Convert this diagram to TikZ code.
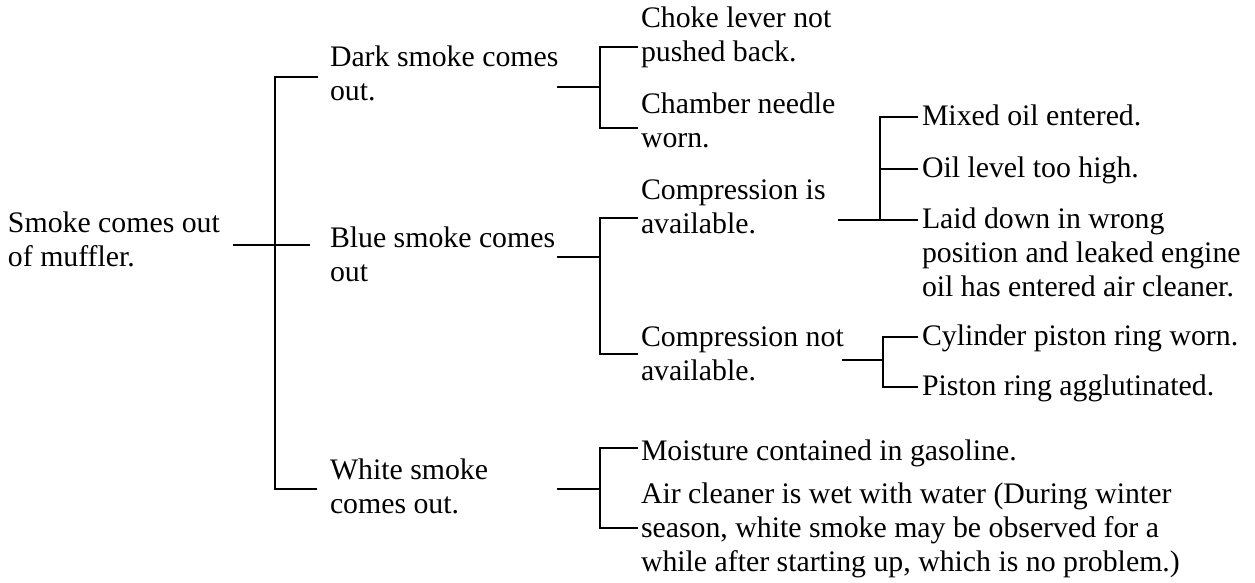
\documentclass[tikz,border=0pt]{standalone}
\usepackage{fontspec}
\setmainfont{Liberation Serif}
\begin{document}
\begin{tikzpicture}[x=0.5pt,y=-0.5pt,
  txt/.style={anchor=north west, inner sep=0pt, outer sep=0pt, align=left,
    font=\fontsize{14.9pt}{17pt}\selectfont},
  conn/.style={draw=black, line width=0.8pt}]
\useasboundingbox (0,0) rectangle (1255,583);

% text nodes (anchored at top = baseline - 24px)
\node[txt] (root)    at (8,209)   {\strut Smoke comes out\\of muffler.};
\node[txt] (dark)    at (330,43)  {\strut Dark smoke comes\\out.};
\node[txt] (blue)    at (330,224) {\strut Blue smoke comes\\out};
\node[txt] (white)   at (330,456) {\strut White smoke\\comes out.};
\node[txt] (choke)   at (641,4)   {\strut Choke lever not\\pushed back.};
\node[txt] (chamber) at (641,90)  {\strut Chamber needle\\worn.};
\node[txt] (compis)  at (641,176) {\strut Compression is\\available.};
\node[txt] (compnot) at (641,323) {\strut Compression not\\available.};
\node[txt] (moist)   at (641,437) {\strut Moisture contained in gasoline.};
\node[txt] (air)     at (641,480) {\strut Air cleaner is wet with water (During winter\\season, white smoke may be observed for a\\while after starting up, which is no problem.)};
\node[txt] (mixed)   at (922,102) {\strut Mixed oil entered.};
\node[txt] (oil)     at (922,154) {\strut Oil level too high.};
\node[txt] (laid)    at (922,205) {\strut Laid down in wrong\\position and leaked engine\\oil has entered air cleaner.};
\node[txt] (cyl)     at (922,322) {\strut Cylinder piston ring worn.};
\node[txt] (piston)  at (922,372) {\strut Piston ring agglutinated.};

% junction coordinates
\coordinate (rs) at (233,245); \coordinate (re) at (310,245);
\coordinate (tt) at (275,77);  \coordinate (tb) at (275,489);
\coordinate (dE) at (318,77);  \coordinate (wE) at (317,489);

\coordinate (ds) at (557,87);  \coordinate (dv) at (600,87);
\coordinate (dt) at (638,47);  \coordinate (db) at (638,128);

\coordinate (bs) at (557,257); \coordinate (bv) at (600,257);
\coordinate (bt) at (638,218); \coordinate (bb) at (638,354);

\coordinate (ws) at (557,489); \coordinate (wv) at (600,489);
\coordinate (wt) at (638,448); \coordinate (wb) at (638,528);

\coordinate (cs) at (838,220); \coordinate (cv) at (880,220);
\coordinate (ct) at (918,117); \coordinate (cmv) at (880,169);
\coordinate (cm) at (918,169); \coordinate (cb) at (918,220);

\coordinate (ns) at (842,360); \coordinate (nv) at (883,360);
\coordinate (nt) at (918,337); \coordinate (nb) at (918,387);

% root bracket
\draw[conn] (rs) -- (re);
\draw[conn] (dE) -- (tt) -- (tb) -- (wE);
% dark smoke bracket
\draw[conn] (ds) -- (dv);
\draw[conn] (dt) -| (dv) |- (db);
% blue smoke bracket
\draw[conn] (bs) -- (bv);
\draw[conn] (bt) -| (bv) |- (bb);
% white smoke bracket
\draw[conn] (ws) -- (wv);
\draw[conn] (wt) -| (wv) |- (wb);
% compression is bracket
\draw[conn] (cs) -- (cb);
\draw[conn] (ct) -| (cv);
\draw[conn] (cmv) -- (cm);
% compression not bracket
\draw[conn] (ns) -- (nv);
\draw[conn] (nt) -| (nv) |- (nb);
\end{tikzpicture}
\end{document}
